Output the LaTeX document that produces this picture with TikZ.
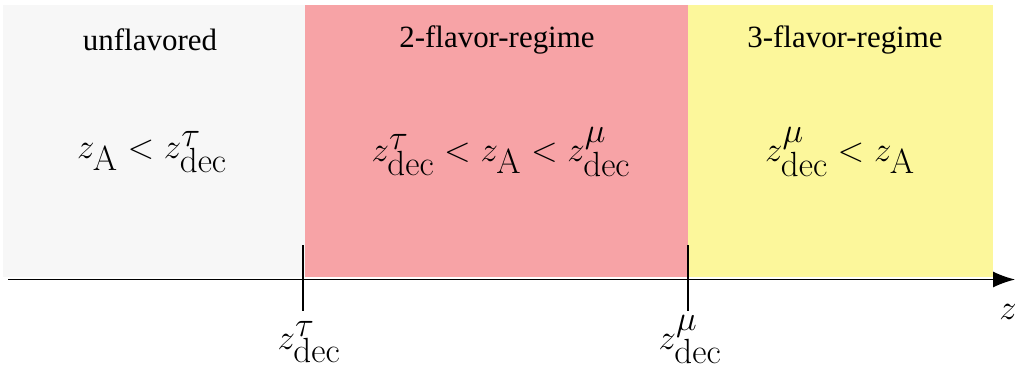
\documentclass[tikz,border=0pt]{standalone}
\usepackage[no-math]{fontspec}
\setmainfont{Liberation Serif}
\usetikzlibrary{arrows.meta}

\definecolor{unflav}{RGB}{247,247,247}
\definecolor{twoflav}{RGB}{247,163,166}
\definecolor{threeflav}{RGB}{252,247,155}

\tikzset{
  regime/.style={font=\fontsize{22}{26}\selectfont},
  cond/.style={font=\fontsize{34}{40}\selectfont},
  ticklabel/.style={font=\fontsize{34}{40}\selectfont},
  tickmark/.style={line width=1.3pt},
}

\begin{document}
\begin{tikzpicture}[x=0.025cm, y=-0.025cm]
  \useasboundingbox (0,0) rectangle (1015,369);

  % regions
  \fill[unflav] (3,5) rectangle (305,277);
  \fill[twoflav] (305,5) rectangle (688,277);
  \fill[threeflav] (688,5) rectangle (993,277);

  % titles
  \node[regime] (unflavored) at (150,40) {unflavored};
  \node[regime] (twoflavor) at (497,40) {2-flavor-regime};
  \node[regime] (threeflavor) at (845,40) {3-flavor-regime};

  % conditions
  \node[cond] (condA) at (152,152) {$z_{\mathrm{A}} < z^{\tau}_{\mathrm{dec}}$};
  \node[cond] (condB) at (501,152) {$z^{\tau}_{\mathrm{dec}} < z_{\mathrm{A}} < z^{\mu}_{\mathrm{dec}}$};
  \node[cond] (condC) at (840,152) {$z^{\mu}_{\mathrm{dec}} < z_{\mathrm{A}}$};

  % axis
  \coordinate (start) at (8,279.5);
  \coordinate (end) at (1015,279.5);
  \draw[line width=0.9pt, -{Latex[length=22*0.025cm, width=16*0.025cm]}] (start) -- (end);
  \node[ticklabel, inner sep=0pt] (zlabel) at (1008,312) {$z$};

  % ticks
  \coordinate (tautop) at (303,245);
  \coordinate (taubot) at (303,311);
  \coordinate (mutop) at (688,245);
  \coordinate (mubot) at (688,311);
  \draw[tickmark] (tautop) -- (taubot);
  \draw[tickmark] (mutop) -- (mubot);
  \node[ticklabel, inner sep=0pt, anchor=base] (taulabel) at (309,349) {$z^{\tau}_{\mathrm{dec}}$};
  \node[ticklabel, inner sep=0pt, anchor=base] (mulabel) at (690,349) {$z^{\mu}_{\mathrm{dec}}$};
\end{tikzpicture}
\end{document}
